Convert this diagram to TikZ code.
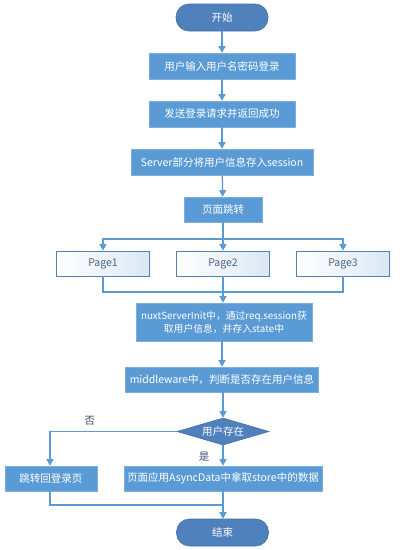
\documentclass[tikz,border=0pt]{standalone}
\usepackage{fontspec}
\setmainfont{Noto Sans CJK SC}
\usetikzlibrary{arrows.meta,shapes.geometric}
\definecolor{termfill}{HTML}{4F81BD}
\definecolor{procfill}{HTML}{5B9BD5}
\definecolor{linecol}{HTML}{5B9BD5}
\definecolor{pagetext}{HTML}{4A6485}
\definecolor{pagegrad}{HTML}{DCE7F4}
\definecolor{labtext}{HTML}{3B4E6B}
\begin{document}
\begin{tikzpicture}[x=1pt,y=-1pt,
  every node/.style={font=\fontsize{10.5}{12.5}\selectfont, inner sep=0pt},
  term/.style={rectangle, rounded corners=13pt, fill=termfill, draw=termfill!85!black, line width=0.6pt, text=white, minimum width=92pt, minimum height=27pt},
  proc/.style={rectangle, fill=procfill, draw=procfill!80!white, line width=0.6pt, text=white, minimum height=26pt},
  pagebox/.style={rectangle, left color=white, right color=pagegrad, draw=linecol!85!black, line width=0.7pt, text=pagetext, minimum width=93pt, minimum height=25pt},
  dec/.style={diamond, aspect=3.4, fill=termfill, draw=termfill!85!black, line width=0.6pt, text=white, minimum width=92pt, minimum height=27pt},
  conn/.style={draw=linecol, line width=1.3pt},
  arr/.style={conn, -{Triangle[width=7pt,length=6.5pt]}},
  lab/.style={text=labtext}
]
\useasboundingbox (0,0) rectangle (405,550);
\node[term] (start) at (222,17.5) {开始};
\node[proc, minimum width=146pt] (b1) at (222,66) {用户输入用户名密码登录};
\node[proc, minimum width=146pt] (b2) at (222,114) {发送登录请求并返回成功};
\node[proc, minimum width=182pt] (b3) at (222,162) {Server部分将用户信息存入session};
\node[proc, minimum width=78pt, minimum height=25pt] (b4) at (223,209.5) {页面跳转};
\node[pagebox] (p1) at (103,263.5) {Page1};
\node[pagebox] (p2) at (223,263.5) {Page2};
\node[pagebox] (p3) at (343,263.5) {Page3};
\node[proc, minimum width=176pt, minimum height=38pt, align=center, font=\fontsize{9.8}{13}\selectfont] (b5) at (224,322) {nuxtServerInit中，通过req.session获\\取用户信息，并存入state中};
\node[proc, minimum width=193pt, minimum height=25pt] (b6) at (222,379.5) {middleware中，判断是否存在用户信息};
\node[dec] (dia) at (223,431.5) {用户存在};
\node[proc, minimum width=92pt, minimum height=25pt] (lb) at (51,478.5) {跳转回登录页};
\node[proc, minimum width=198pt, minimum height=25pt] (rb) at (223,478.5) {页面应用AsyncData中拿取store中的数据};
\node[term] (end) at (222.5,532.5) {结束};
\node[lab] (no) at (90,421) {否};
\node[lab] (yes) at (204,457) {是};
\coordinate (j1) at (223,239);
\coordinate (j2) at (223,292);
\coordinate (j3) at (223,505);
\draw[arr] (start) -- (b1);
\draw[arr] (b1) -- (b2);
\draw[arr] (b2) -- (b3);
\draw[arr] (b3) -- (b4);
\draw[conn] (b4) -- (j1);
\draw[arr] (j1) -| (p1);
\draw[arr] (j1) -| (p3);
\draw[arr] (j1) -- (p2);
\draw[conn] (p1) |- (j2);
\draw[conn] (p3) |- (j2);
\draw[arr] (p2) -- (b5.north -| p2);
\draw[arr] (b5.south -| b6) -- (b6);
\draw[arr] (b6.south -| dia) -- (dia);
\draw[arr] (dia.west) -| (lb.north -| 50,0);
\draw[arr] (dia) -- (rb);
\draw[conn] (lb.south -| 50,0) |- (j3);
\draw[arr] (rb) -- (end.north -| rb);
\end{tikzpicture}
\end{document}
